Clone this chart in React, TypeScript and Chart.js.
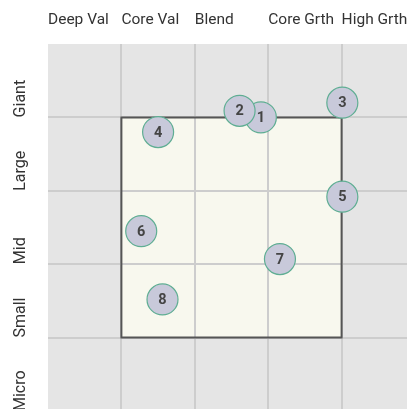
import React, { useEffect, useRef } from 'react';
import { Chart, registerables } from 'chart.js';

// Style (columns) and size (rows) categories
const styleLabels = ['Deep Val', 'Core Val', 'Blend', 'Core Grth', 'High Grth'];
const sizeLabels = ['Giant', 'Large', 'Mid', 'Small', 'Micro'];
const gridTicks = [0, 1, 2, 3, 4, 5];

// Holdings: id, style score (x), size score (y, 0 = top)
const holdingIds = ['1', '2', '3', '4', '5', '6', '7', '8'];
const styleScores = [2.9, 2.61, 4.01, 1.5, 4.01, 1.27, 3.16, 1.56];
const sizeScores = [1.0, 0.91, 0.8, 1.2, 2.08, 2.55, 2.93, 3.48];

// Ownership zone box
const boxStyleRange = [1, 4];
const boxSizeRange = [1, 4];

const FONT = "'Roboto', 'Liberation Sans', sans-serif";

const chartAreaBg = {
  id: 'chartAreaBg',
  beforeDraw(chart: any) {
    const { ctx, chartArea: a } = chart;
    ctx.save();
    ctx.fillStyle = '#e5e5e5';
    ctx.fillRect(a.left, a.top, a.right - a.left, a.bottom - a.top);
    ctx.restore();
  },
};
Chart.register(chartAreaBg);
Chart.register(...registerables);

const bubbleText = {
  id: 'bubbleText',
  afterDatasetsDraw(chart: any) {
    const ctx = chart.ctx;
    const meta = chart.getDatasetMeta(2);
    ctx.save();
    ctx.font = `bold 14.5px ${FONT}`;
    ctx.fillStyle = '#444444';
    ctx.textAlign = 'center';
    ctx.textBaseline = 'middle';
    meta.data.forEach((el: any, i: number) => {
      ctx.fillText(holdingIds[i], el.x, el.y + 1);
    });
    ctx.restore();
  },
};

const zeroPadding = (s: any) => {
  s.paddingLeft = 0;
  s.paddingRight = 0;
  s.paddingTop = 0;
  s.paddingBottom = 0;
};

export default function App() {
  const ref = useRef<HTMLCanvasElement>(null);
  useEffect(() => {
    if (!ref.current) return;
    const gridColor = (c: any) =>
      c.index > 0 && c.index < gridTicks.length - 1 ? '#cdcdcd' : 'rgba(0,0,0,0)';
    const [bx0, bx1] = boxStyleRange;
    const [by0, by1] = boxSizeRange;
    const chart = new Chart(ref.current, {
      type: 'bubble',
      data: {
        datasets: [
          {
            type: 'line',
            data: [
              { x: bx0, y: by0 },
              { x: bx1, y: by0 },
            ],
            fill: { value: by1 },
            backgroundColor: '#f8f8ee',
            borderWidth: 0,
            pointRadius: 0,
            order: 2,
          } as any,
          {
            type: 'line',
            data: [
              { x: bx0, y: by0 },
              { x: bx1, y: by0 },
              { x: bx1, y: by1 },
              { x: bx0, y: by1 },
              { x: bx0, y: by0 },
            ],
            fill: false,
            borderColor: '#555555',
            borderWidth: 2,
            borderJoinStyle: 'miter',
            borderCapStyle: 'square',
            pointRadius: 0,
            order: 1,
          } as any,
          {
            type: 'bubble',
            data: holdingIds.map((_, i) => ({ x: styleScores[i], y: sizeScores[i], r: 15.5 })),
            backgroundColor: '#c8c9da',
            borderColor: '#5fae93',
            borderWidth: 1.2,
            order: 0,
          } as any,
        ],
      },
      options: {
        responsive: false,
        devicePixelRatio: 1,
        animation: false,
        events: [],
        layout: { autoPadding: false, padding: { left: 13, top: 0, right: 0, bottom: 0 } },
        plugins: {
          legend: { display: false },
          tooltip: { enabled: false },
          filler: { drawTime: 'beforeDraw' },
        } as any,
        scales: {
          x: {
            type: 'linear',
            position: 'top',
            min: 0,
            max: 5,
            afterBuildTicks: (s: any) => {
              s.ticks = gridTicks.map((v) => ({ value: v }));
            },
            afterFit: (s: any) => {
              s.height = 44;
              zeroPadding(s);
            },
            ticks: {
              autoSkip: false,
              align: 'start',
              padding: 15,
              minRotation: 0,
              maxRotation: 0,
              color: '#333333',
              font: { family: FONT, size: 15.5 },
              callback: (v: any) => styleLabels[v] ?? '',
            },
            grid: { drawTicks: false, color: gridColor, lineWidth: 2 },
            border: { display: false },
          },
          y: {
            type: 'linear',
            position: 'left',
            reverse: true,
            min: 0,
            max: 5,
            afterBuildTicks: (s: any) => {
              s.ticks = gridTicks.map((v) => ({ value: v }));
            },
            afterFit: (s: any) => {
              s.width = 35;
              zeroPadding(s);
            },
            ticks: {
              autoSkip: false,
              minRotation: 90,
              maxRotation: 90,
              crossAlign: 'far',
              align: 'start',
              padding: 0,
              color: '#333333',
              font: { family: FONT, size: 16 },
              callback: (v: any) => (v >= 1 ? sizeLabels[v - 1] : ''),
            },
            grid: { drawTicks: false, color: gridColor, lineWidth: 2 },
            border: { display: false },
          },
        },
      } as any,
      plugins: [bubbleText],
    });
    return () => chart.destroy();
  }, []);
  return (
    <div
      style={{
        position: 'fixed',
        left: 0,
        top: 0,
        width: 407,
        height: 409,
        overflow: 'hidden',
        background: '#ffffff',
      }}
    >
      <canvas ref={ref} width={415} height={411} style={{ display: 'block', width: 415, height: 411 }} />
    </div>
  );
}
